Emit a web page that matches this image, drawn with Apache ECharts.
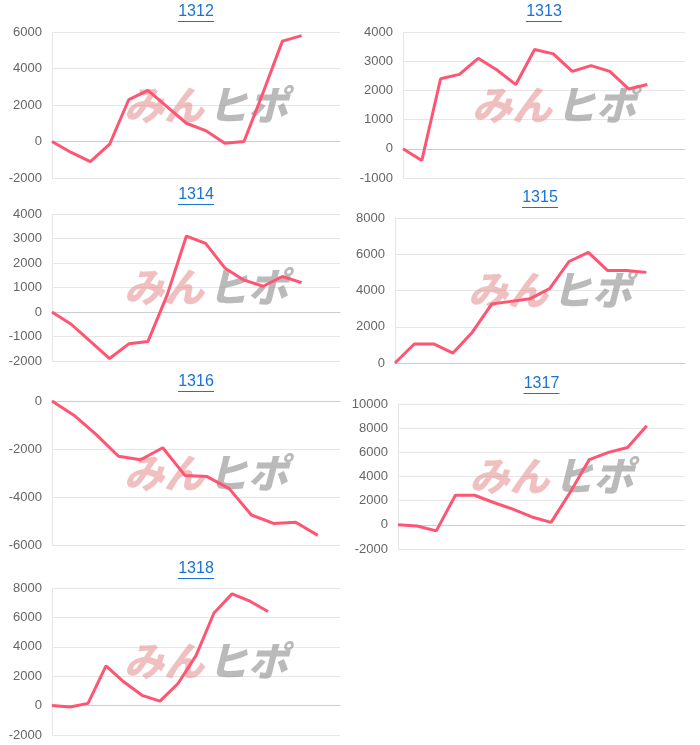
<!DOCTYPE html>
<html><head><meta charset="utf-8">
<script src="https://cdn.jsdelivr.net/npm/echarts@6/dist/echarts.min.js"></script>
<style>html,body{margin:0;padding:0;background:#fff}#c{width:700px;height:745px}</style>
</head><body><div id="c"></div>
<script>
const titles = ['1312','1313','1314','1315','1316','1317','1318'];
const slotCounts = [16,16,16,16,14,16,17];
const s1312 = [0,-600,-1100,-150,2300,2800,1900,1000,600,-100,0,2700,5500,5800];
const s1313 = [0,-400,2400,2550,3100,2700,2200,3400,3250,2650,2850,2650,2050,2200];
const s1314 = [0,-500,-1200,-1900,-1300,-1200,700,3100,2800,1800,1300,1050,1450,1200];
const s1315 = [0,1050,1050,550,1700,3250,3400,3550,4100,5600,6100,5100,5100,5000];
const s1316 = [0,-600,-1400,-2300,-2450,-1950,-3100,-3150,-3650,-4750,-5100,-5050,-5600];
const s1317 = [0,-100,-500,2450,2450,1850,1300,650,200,2700,5400,6000,6400,8200];
const s1318 = [0,-100,150,2700,1600,700,300,1500,3400,6300,7600,7100,6400];
const seriesData = [s1312,s1313,s1314,s1315,s1316,s1317,s1318];
const yMin = [-2000,-1000,-2000,0,-6000,-2000,-2000];
const yMax = [6000,4000,4000,8000,0,10000,8000];
const yStep = [2000,1000,1000,2000,2000,2000,2000];

const layout = [
  {left:52,width:288,top:32,height:146,ty:4},
  {left:403,width:282,top:32,height:146,ty:4},
  {left:52,width:288,top:214,height:147,ty:187},
  {left:395,width:290,top:218,height:145,ty:190},
  {left:52,width:288,top:401,height:144,ty:374},
  {left:398,width:287,top:404,height:145,ty:376},
  {left:52,width:288,top:588,height:147,ty:561}
];
const chart = echarts.init(document.getElementById('c'));
const grid=[],xAxis=[],yAxis=[],series=[],title=[],graphic=[];
layout.forEach((L,i)=>{
  grid.push({left:L.left,top:L.top,width:L.width,height:L.height});
  const cats = Array.from({length:slotCounts[i]},(_,k)=>String(k+1));
  xAxis.push({type:'category',gridIndex:i,data:cats,boundaryGap:false,
    axisLabel:{show:false},axisTick:{show:false},
    axisLine:{lineStyle:{color:'#ccc'}},splitLine:{show:false}});
  yAxis.push({type:'value',gridIndex:i,min:yMin[i],max:yMax[i],interval:yStep[i],
    axisLine:{show:true,lineStyle:{color:'#e6e6e6'}},
    axisLabel:{color:'#666',fontSize:13,margin:10,fontFamily:'"Liberation Sans", Arial, sans-serif',formatter:v=>String(v)},
    splitLine:{lineStyle:{color:'#e6e6e6'}}});
  series.push({type:'line',xAxisIndex:i,yAxisIndex:i,data:seriesData[i],
    showSymbol:false,lineStyle:{color:'#ff5572',width:3},itemStyle:{color:'#ff5572'},z:3});
  const cx = L.left + L.width/2;
  title.push({text:titles[i],left:cx,top:L.ty,textAlign:'center',padding:0,
    textStyle:{color:'#1a73d4',fontSize:16,fontWeight:'normal',fontFamily:'"Liberation Sans", Arial, sans-serif'}});
  graphic.push({type:'line',shape:{x1:cx-18,y1:L.ty+17.5,x2:cx+18,y2:L.ty+17.5},style:{stroke:'#1a73d4',lineWidth:1}});
  const wy = L.top + L.height*0.36;
  graphic.push({type:'text',left:cx-72,top:wy,z:1,style:{text:'みん',fill:'rgba(225,130,130,0.5)',
    font:'italic 900 40px "Noto Sans CJK JP"'}});
  graphic.push({type:'text',left:cx+12,top:wy,z:1,style:{text:'ヒポ',fill:'rgba(140,140,140,0.6)',
    font:'italic 900 40px "Noto Sans CJK JP"'}});
});
chart.setOption({animation:false,title,grid,xAxis,yAxis,series,graphic});
</script></body></html>
